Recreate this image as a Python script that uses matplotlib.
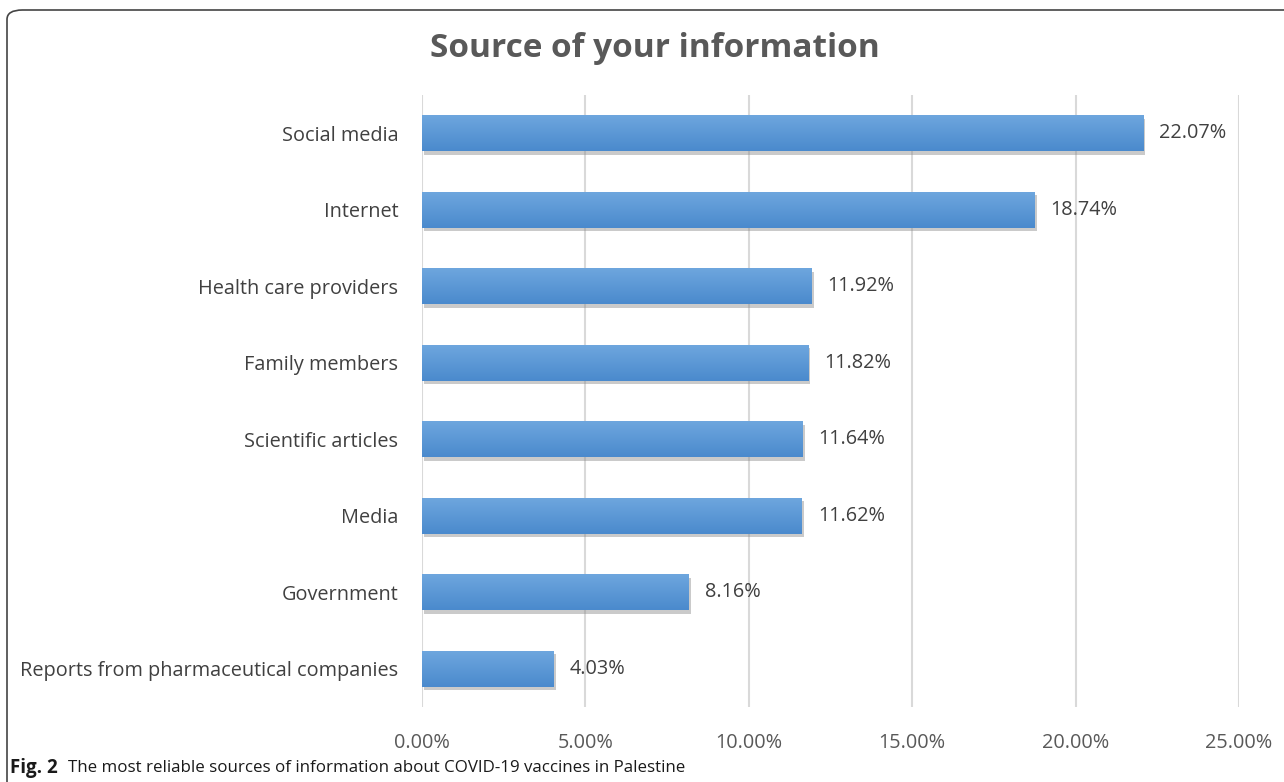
import numpy as np
import matplotlib
matplotlib.use('Agg')
import matplotlib.pyplot as plt
from matplotlib.patches import FancyBboxPatch
import matplotlib.patheffects as pe
from matplotlib.ticker import FuncFormatter

# data (top to bottom)
sources = ['Social media', 'Internet', 'Health care providers', 'Family members',
           'Scientific articles', 'Media', 'Government',
           'Reports from pharmaceutical companies']
shares = [22.07, 18.74, 11.92, 11.82, 11.64, 11.62, 8.16, 4.03]
x_ticks = [0, 5, 10, 15, 20, 25]

title = 'Source of your information'
caption_bold = 'Fig. 2'
caption_text = 'The most reliable sources of information about COVID-19 vaccines in Palestine'

plt.rcParams['font.family'] = ['Open Sans', 'DejaVu Sans']

fig = plt.figure(figsize=(12.84, 7.82), dpi=100)
ax = fig.add_axes([0.3287, 0.0959, 0.6363, 0.7826])

ypos = np.arange(len(sources))
bars = ax.barh(ypos, shares, height=0.47, color='#5b9bd5', zorder=3,
               path_effects=[pe.SimplePatchShadow(offset=(1.5, -2.5), shadow_rgbFace='#8a8a8a', alpha=0.45),
                             pe.Normal()])

# vertical gradient on each bar (light top, darker bottom)
grad = np.linspace(0, 1, 64).reshape(-1, 1)
cmap = matplotlib.colors.LinearSegmentedColormap.from_list('bar', ['#6ea6de', '#4a8acd'])
for b in bars:
    x0, y0 = b.get_x(), b.get_y()
    w, h = b.get_width(), b.get_height()
    im = ax.imshow(grad, cmap=cmap, aspect='auto', extent=(x0, x0 + w, y0 + h, y0),
                   origin='upper', zorder=4)
    im.set_clip_path(b)

for y, v in zip(ypos, shares):
    ax.annotate(f'{v:.2f}%', (v, y), xytext=(11.5, 0), textcoords='offset points',
                va='center', ha='left', fontsize=14.3, color='#404040', zorder=5)

ax.set_xlim(0, 25)
ax.set_ylim(len(sources) - 0.5, -0.5)
ax.set_xticks(x_ticks)
ax.xaxis.set_major_formatter(FuncFormatter(lambda v, p: f'{v:.2f}%'))
ax.set_yticks(ypos)
ax.set_yticklabels(sources)
ax.tick_params(axis='y', length=0, pad=17, labelsize=14.3, labelcolor='#404040')
ax.tick_params(axis='x', length=0, pad=19, labelsize=14.3, labelcolor='#595959')
ax.grid(axis='x', color='#d9d9d9', linewidth=1.5, zorder=0)
ax.set_axisbelow(True)
for s in ax.spines.values():
    s.set_visible(False)

fig.text(0.51, 0.938, title, ha='center', va='center', fontsize=24,
         fontweight='bold', color='#595959')

fig.text(0.0078, 0.018, caption_bold, ha='left', va='center', fontsize=13.5,
         fontweight='bold', color='#1a1a1a')
fig.text(0.053, 0.018, caption_text, ha='left', va='center', fontsize=12.2,
         color='#1a1a1a')

# rounded frame, only top-left corner visible
frame = FancyBboxPatch((7 / 1284, -0.2), 1.3, 1.2 - 10 / 782,
                       boxstyle='round,pad=0,rounding_size=0.012',
                       transform=fig.transFigure, fill=False,
                       edgecolor='#444444', linewidth=1.2, clip_on=False)
fig.patches.append(frame)

fig.savefig('out.png', dpi=100)
